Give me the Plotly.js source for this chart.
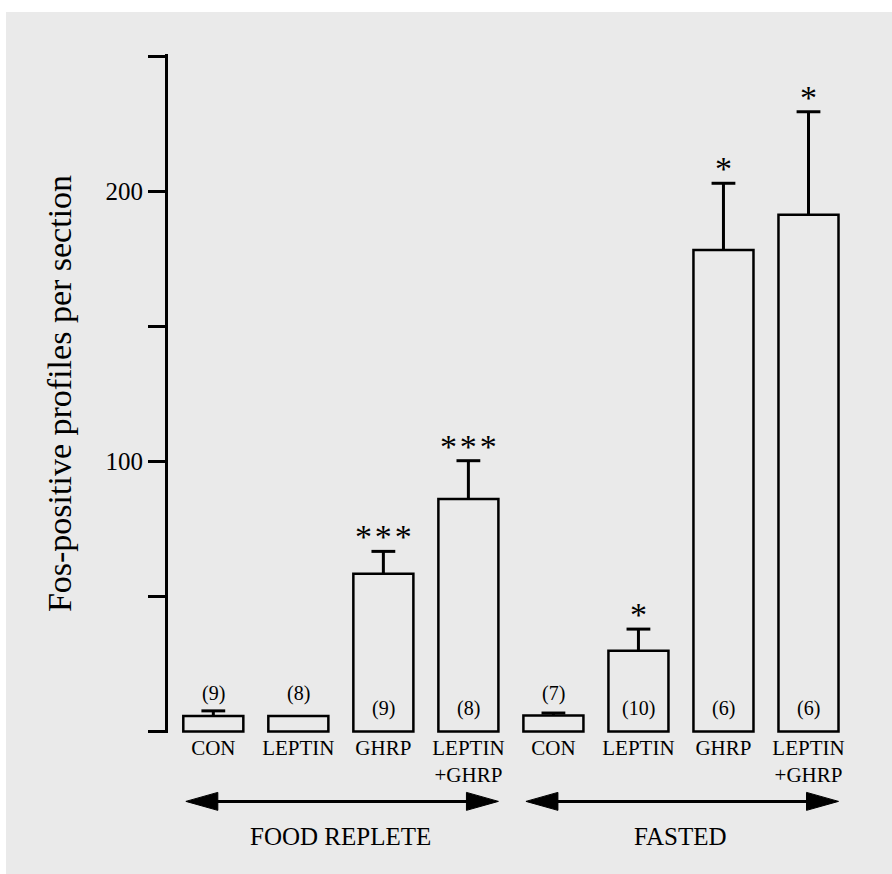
<!DOCTYPE html>
<html><head><meta charset="utf-8">
<script src="https://cdn.plot.ly/plotly-3.0.1.min.js"></script>
<style>
html,body{margin:0;padding:0;background:#ffffff;}
#chart{position:absolute;left:6px;top:12px;width:886px;height:862px;}
</style></head><body><div id="chart"></div>
<script>
// ---- data ----
const categories = ['CON','LEPTIN','GHRP','LEPTIN<br>+GHRP','CON','LEPTIN','GHRP','LEPTIN<br>+GHRP'];
const groupNames = ['FOOD REPLETE','FASTED'];
const groupOf = [0,0,0,0,1,1,1,1];
const means = [5.7, 5.7, 58.4, 86.1, 5.9, 29.9, 178.4, 191.4];
const sems  = [1.9, null, 8.3, 14.2, 0.9, 8.0, 24.7, 38.2];
const nLabels = ['(9)','(8)','(9)','(8)','(7)','(10)','(6)','(6)'];
const sigMarks = ['','','***','***','','*','*','*'];
const yTickVals = [0,50,100,150,200,250];
const yTickText = ['','','100','','200',''];

// ---- styling ----
const FONT = '"Liberation Serif","Times New Roman",Times,serif';
const BG = '#eaeaea';
const barWidth = 0.706;
const xs = categories.map((_, i) => i);

const bars = {
  type: 'bar',
  x: xs,
  y: means,
  width: barWidth,
  marker: {color: 'rgba(0,0,0,0)', line: {color: '#000', width: 2.5}},
  error_y: {
    type: 'data', symmetric: false,
    array: sems, arrayminus: sems.map(() => 0),
    color: '#000', thickness: 3, width: 0, visible: true
  },
  hoverinfo: 'skip'
};

// caps on top of the error bars
const capIdx = xs.filter(i => sems[i] != null);
const caps = {
  type: 'scatter', mode: 'markers',
  x: capIdx.map(i => xs[i]),
  y: capIdx.map(i => means[i] + sems[i]),
  marker: {symbol: 'line-ew', size: 17, color: '#000', line: {color: '#000', width: 3}},
  hoverinfo: 'skip', cliponaxis: false
};

const annotations = [];
// n labels
means.forEach((m, i) => {
  annotations.push({
    x: xs[i], y: 0, xref: 'x', yref: 'y', text: nLabels[i], showarrow: false,
    yanchor: 'middle', yshift: m < 15 ? 38 : 23,
    font: {family: FONT, size: 20, color: '#000'}
  });
});
// significance marks
sigMarks.forEach((s, i) => {
  if (!s) return;
  annotations.push({
    x: xs[i], y: means[i] + (sems[i] || 0), xref: 'x', yref: 'y',
    text: s.split('').join('\u200A'), showarrow: false,
    yanchor: 'bottom', yshift: -6,
    font: {family: FONT, size: 34, color: '#000'}
  });
});

// group arrows + labels
const shapes = [];
const arrowY = -0.1007, headHalf = 0.01325, headLen = 0.376;
groupNames.forEach((name, g) => {
  const idx = xs.filter(i => groupOf[i] === g);
  const left = Math.min(...idx) - barWidth / 2 + 0.03;
  const right = Math.max(...idx) + barWidth / 2;
  shapes.push({type: 'line', xref: 'x', yref: 'paper', x0: left + headLen * 0.9, x1: right - headLen * 0.9,
    y0: arrowY, y1: arrowY, line: {color: '#000', width: 3}});
  shapes.push({type: 'path', xref: 'x', yref: 'paper',
    path: `M ${left},${arrowY} L ${left + headLen},${arrowY + headHalf} L ${left + headLen},${arrowY - headHalf} Z`,
    fillcolor: '#000', line: {color: '#000', width: 1}});
  shapes.push({type: 'path', xref: 'x', yref: 'paper',
    path: `M ${right},${arrowY} L ${right - headLen},${arrowY + headHalf} L ${right - headLen},${arrowY - headHalf} Z`,
    fillcolor: '#000', line: {color: '#000', width: 1}});
  annotations.push({
    x: (Math.min(...idx) + Math.max(...idx)) / 2, y: -0.1522, xref: 'x', yref: 'paper',
    text: name, showarrow: false, yanchor: 'middle',
    font: {family: FONT, size: 25, color: '#000'}
  });
});

const layout = {
  width: 886, height: 862,
  margin: {l: 162, r: 41, t: 42, b: 141, autoexpand: false},
  paper_bgcolor: BG, plot_bgcolor: BG,
  showlegend: false,
  font: {family: FONT, color: '#000'},
  xaxis: {
    range: [-0.533, 7.5], tickvals: xs, ticktext: categories,
    showline: false, showgrid: false, zeroline: false, ticks: '',
    tickfont: {family: FONT, size: 21, color: '#000'}, automargin: false
  },
  yaxis: {
    range: [-0.6, 251], tickvals: yTickVals, ticktext: yTickText,
    showline: true, linecolor: '#000', linewidth: 3,
    ticks: 'outside', ticklen: 17, tickwidth: 3, tickcolor: '#000',
    showgrid: false, zeroline: false,
    tickfont: {family: FONT, size: 25, color: '#000'},
    title: {text: 'Fos-positive profiles per section', font: {family: FONT, size: 34, color: '#000'}, standoff: 24},
    automargin: false
  },
  shapes: shapes,
  annotations: annotations,
  bargap: 0
};

Plotly.newPlot('chart', [bars, caps], layout, {staticPlot: true, displayModeBar: false});
</script></body></html>
